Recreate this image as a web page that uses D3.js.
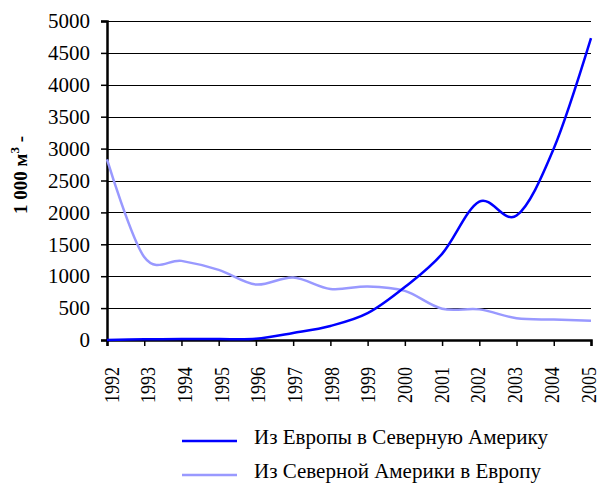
<!DOCTYPE html>
<html>
<head>
<meta charset="utf-8">
<script src="https://cdn.jsdelivr.net/npm/d3@7"></script>
<style>
  body { margin: 0; background: #fff; }
  svg text { font-family: "Liberation Serif", "Times New Roman", serif; }
</style>
</head>
<body>
<svg id="chart" width="600" height="484"></svg>
<script>
const years = [1992, 1993, 1994, 1995, 1996, 1997, 1998, 1999, 2000, 2001, 2002, 2003, 2004, 2005];
const europeToAmerica = [0, 10, 15, 15, 20, 110, 220, 420, 830, 1350, 2170, 1950, 3000, 4730];
const americaToEurope = [2830, 1300, 1240, 1100, 870, 980, 800, 840, 770, 490, 480, 340, 320, 300];
const yTicks = [0, 500, 1000, 1500, 2000, 2500, 3000, 3500, 4000, 4500, 5000];
const seriesNames = ['Из Европы в Северную Америку', 'Из Северной Америки в Европу'];

const svg = d3.select('#chart');
const margin = { top: 21, left: 107, right: 9, bottom: 144 };
const width = 600, height = 484;
const serif = '"Liberation Serif", "Times New Roman", serif';

const x = d3.scaleLinear().domain([1992, 2005]).range([margin.left, width - margin.right]);
const y = d3.scaleLinear().domain([0, 5000]).range([height - margin.bottom, margin.top]);
// rotated year labels sit slightly inside the ticks so the last one fits
const labelX = d3.scaleLinear().domain([1992, 2005]).range([112, 589]);

// grid
svg.append('g').selectAll('line')
  .data(yTicks.filter(d => d > 0))
  .join('line')
  .attr('x1', x(1992)).attr('x2', x(2005))
  .attr('y1', d => Math.round(y(d)) + 0.5).attr('y2', d => Math.round(y(d)) + 0.5)
  .attr('stroke', '#000').attr('stroke-width', 1);

// y axis
const yAxis = svg.append('g')
  .attr('transform', `translate(${x(1992)},0)`)
  .call(d3.axisLeft(y).tickValues(yTicks).tickFormat(d3.format('d')).tickSize(6).tickPadding(11));
yAxis.select('.domain').attr('stroke-width', 2.5);
yAxis.selectAll('.tick line').attr('stroke-width', 1.5);
yAxis.selectAll('text')
  .style('font-size', '21px').style('font-family', serif).attr('fill', '#000');

// x axis
const xAxis = svg.append('g')
  .attr('transform', `translate(0,${y(0)})`)
  .call(d3.axisBottom(x).tickValues(years).tickFormat(d3.format('d')).tickSize(6).tickPadding(0));
xAxis.select('.domain').attr('stroke-width', 2.5);
xAxis.selectAll('.tick line').attr('stroke-width', 1.5);
xAxis.selectAll('text')
  .style('font-size', '21px').style('font-family', serif).attr('fill', '#000')
  .attr('text-anchor', 'end')
  .attr('dy', null).attr('y', 0)
  .attr('textLength', 36).attr('lengthAdjust', 'spacingAndGlyphs')
  .attr('transform', d => `translate(${labelX(d) - x(d) + 6},27) rotate(-90)`);

// y title
const title = svg.append('text')
  .attr('transform', `translate(27,175) rotate(-90)`)
  .attr('text-anchor', 'middle')
  .style('font-size', '19px').style('font-family', serif).attr('font-weight', 'bold');
title.append('tspan').text('1 000 м');
title.append('tspan').style('font-size', '13px').attr('dy', -8).text('3');
title.append('tspan').attr('dy', 8).text(' -');

// lines
const line = d3.line()
  .x((d, i) => x(years[i]))
  .y(d => y(d))
  .curve(d3.curveCardinal.tension(0));

svg.append('path').datum(americaToEurope)
  .attr('d', line).attr('fill', 'none')
  .attr('stroke', '#9999ff').attr('stroke-width', 2.5);
svg.append('path').datum(europeToAmerica)
  .attr('d', line).attr('fill', 'none')
  .attr('stroke', '#0000ff').attr('stroke-width', 2.5);

// legend
const colors = ['#0000ff', '#9999ff'];
svg.append('g').selectAll('g')
  .data(seriesNames)
  .join('g')
  .attr('transform', (d, i) => `translate(182, ${441 + i * 34})`)
  .call(g => {
    g.append('line').attr('x1', 0).attr('x2', 55).attr('y1', 0).attr('y2', 0)
      .attr('stroke', (d, i) => colors[i]).attr('stroke-width', 2.5);
    g.append('text').attr('x', 72).attr('y', 2.5)
      .style('font-size', '21px').style('font-family', serif).attr('fill', '#000')
      .text(d => d);
  });
</script>
</body>
</html>
